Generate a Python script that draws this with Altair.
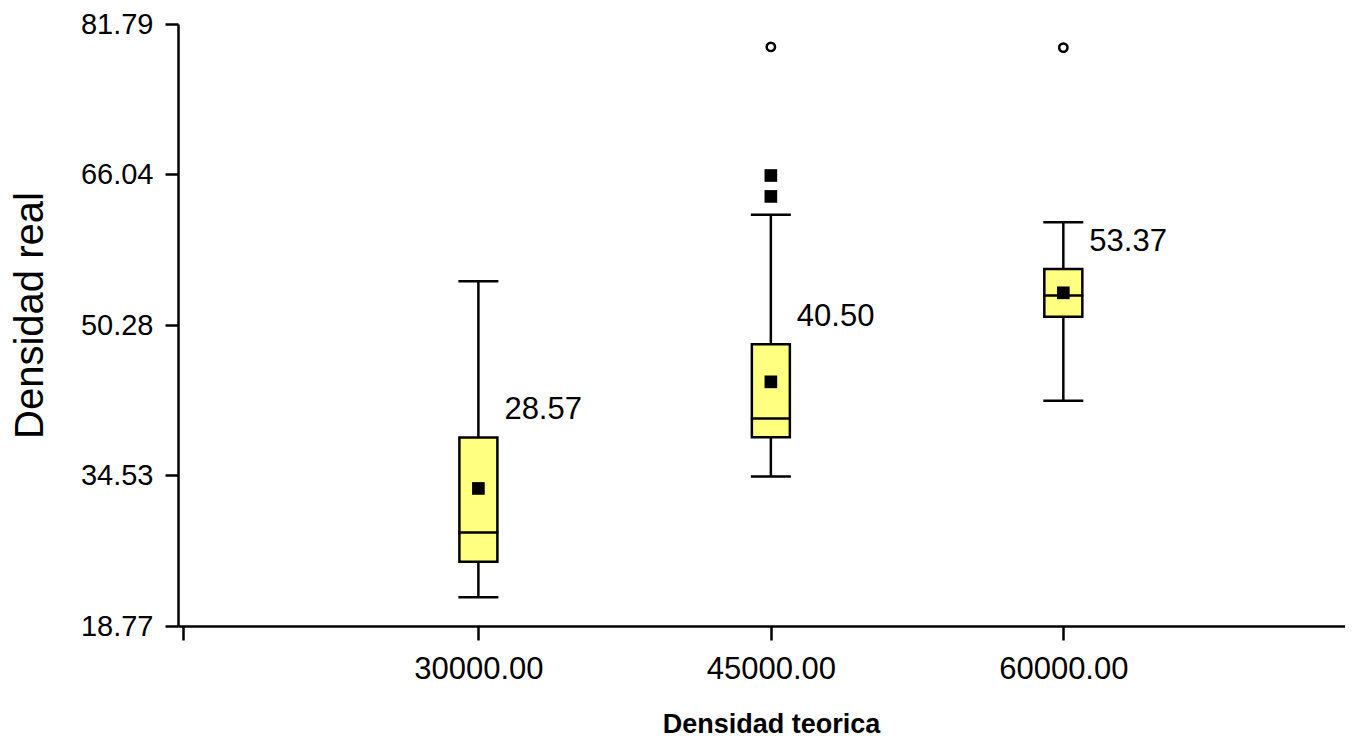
import altair as alt
import pandas as pd

groups = [30000, 45000, 60000]
whisker_low = [21.77, 34.42, 42.35]
q1 = [25.49, 38.52, 51.15]
median = [28.57, 40.50, 53.37]
q3 = [38.51, 48.27, 56.15]
whisker_high = [54.87, 61.83, 61.03]
mean = [33.17, 44.33, 53.65]
median_labels = ["28.57", "40.50", "53.37"]

far_x = [45000, 60000]
far_y = [79.39, 79.32]
out_x = [45000, 45000]
out_y = [65.93, 63.74]

y_ticks = [18.77, 34.53, 50.28, 66.04, 81.79]
x_ticks = [14850, 30000, 45000, 60000]

FONT = "Liberation Sans, Arial"

box_df = pd.DataFrame({"g": groups, "low": whisker_low, "q1": q1, "med": median,
                       "q3": q3, "high": whisker_high, "mean": mean, "lab": median_labels})
caps_df = pd.DataFrame({"g": groups + groups, "v": whisker_low + whisker_high})
far_df = pd.DataFrame({"g": far_x, "v": far_y})
out_df = pd.DataFrame({"g": out_x, "v": out_y})

xs = alt.Scale(domain=[14850, 74190], nice=False, zero=False)
ys = alt.Scale(domain=[18.77, 81.79], nice=False, zero=False)

x_axis = alt.Axis(values=x_ticks, labelExpr="datum.value < 20000 ? '' : format(datum.value, '.2f')",
                  title="Densidad teorica", grid=False, tickSize=14, tickWidth=2.5,
                  domainWidth=2.5, domainColor="black", tickColor="black",
                  labelFont=FONT, labelFontSize=31, labelColor="black", labelPadding=14,
                  labelFlush=False,
                  titleFont=FONT, titleFontSize=27, titleFontWeight="bold", titleColor="black",
                  titleX=593, titleY=106, titleBaseline="alphabetic", titleAlign="center")
y_axis = alt.Axis(values=y_ticks, format=".2f", title="Densidad real", grid=False,
                  tickSize=13, tickWidth=2.5, domainWidth=2.5, domainColor="black", tickColor="black",
                  labelFont=FONT, labelFontSize=29, labelColor="black", labelPadding=12,
                  labelFlush=False,
                  titleFont=FONT, titleFontSize=40, titleFontWeight="normal",
                  titleColor="black", titleX=-148, titleY=291, titleAngle=270,
                  titleBaseline="middle", titleAlign="center")

base = alt.Chart(box_df)

whisk = base.mark_rule(color="black", strokeWidth=2.5, opacity=1).encode(
    x=alt.X("g:Q", scale=xs, axis=x_axis),
    y=alt.Y("low:Q", scale=ys, axis=y_axis),
    y2="high:Q")

caps = alt.Chart(caps_df).mark_tick(orient="horizontal", size=40, thickness=2.5,
                                     color="black", opacity=1).encode(
    x=alt.X("g:Q", scale=xs), y=alt.Y("v:Q", scale=ys))

box = base.mark_bar(size=38, fill="#FFFF80", stroke="black", strokeWidth=2.5, opacity=1).encode(
    x=alt.X("g:Q", scale=xs), y=alt.Y("q1:Q", scale=ys), y2="q3:Q")

med = base.mark_tick(orient="horizontal", size=40, thickness=2.5, color="black", opacity=1).encode(
    x=alt.X("g:Q", scale=xs), y=alt.Y("med:Q", scale=ys))

mn = base.mark_square(size=160, color="black", opacity=1, filled=True).encode(
    x=alt.X("g:Q", scale=xs), y=alt.Y("mean:Q", scale=ys))

outs = alt.Chart(out_df).mark_square(size=160, color="black", opacity=1, filled=True).encode(
    x=alt.X("g:Q", scale=xs), y=alt.Y("v:Q", scale=ys))

far = alt.Chart(far_df).mark_point(shape="circle", size=70, stroke="black", strokeWidth=2.5,
                                    fill="white", filled=False, opacity=1).encode(
    x=alt.X("g:Q", scale=xs), y=alt.Y("v:Q", scale=ys))

labels = base.mark_text(align="left", baseline="middle", dx=26, dy=-27, font=FONT,
                        fontSize=31, color="black").encode(
    x=alt.X("g:Q", scale=xs), y=alt.Y("q3:Q", scale=ys), text="lab:N")

chart = alt.layer(whisk, caps, box, med, mn, outs, far, labels).properties(
    width=1167, height=602,
    padding={"left": 170, "top": 16, "right": 0, "bottom": 114},
    autosize="none",
    background="white",
).configure_view(stroke=None)

chart.save("out.html", embed_options={"renderer": "svg", "actions": False})
